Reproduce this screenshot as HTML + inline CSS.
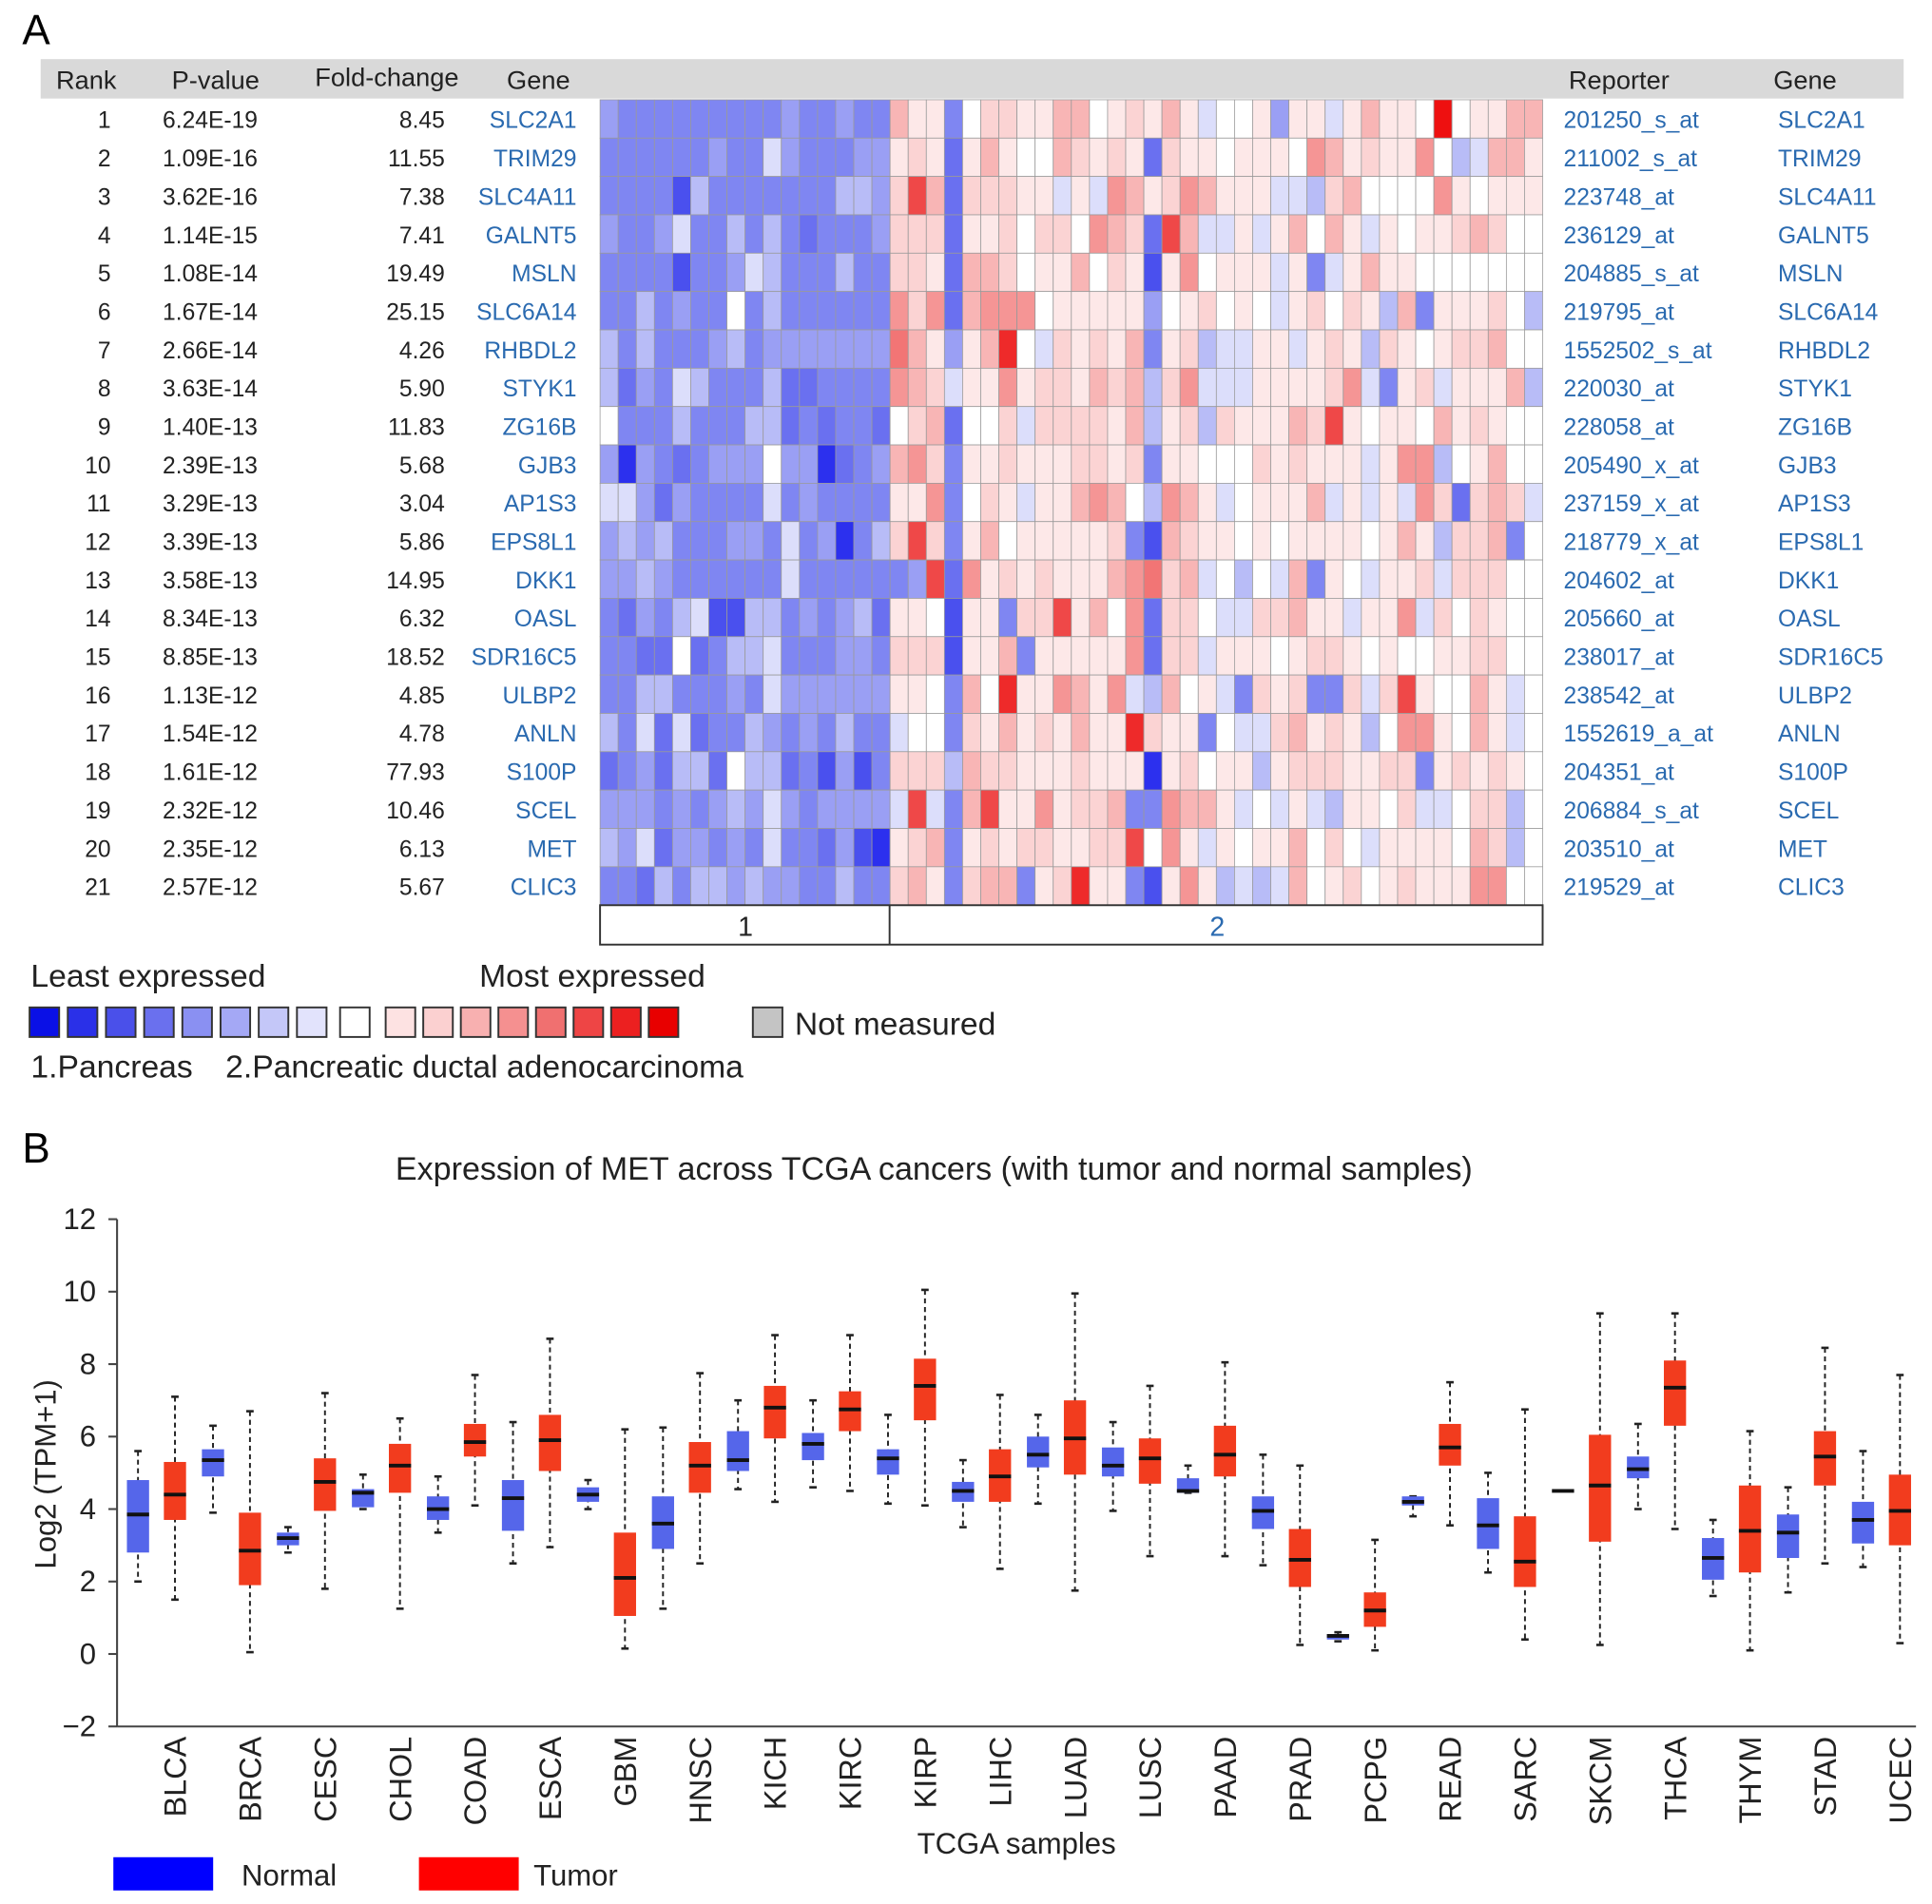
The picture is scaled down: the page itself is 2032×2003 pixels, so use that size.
<!DOCTYPE html>
<html><head><meta charset="utf-8"><style>
html,body{margin:0;padding:0;background:#fff;}
svg{display:block;font-family:"Liberation Sans",Arial,sans-serif;}
</style></head><body>
<svg id="fig" width="2032" height="2003" viewBox="0 0 1568 1546" preserveAspectRatio="none" xmlns="http://www.w3.org/2000/svg">
<rect width="1568" height="1546" fill="#fff"/>
<text x="18" y="36" font-size="34">A</text>
<rect x="33" y="48" width="1512" height="32" fill="#d9d9d9"/>
<g font-size="21" fill="#222">
<text x="70" y="72" text-anchor="middle">Rank</text>
<text x="175" y="72" text-anchor="middle">P-value</text>
<text x="314" y="70" text-anchor="middle">Fold-change</text>
<text x="437" y="72" text-anchor="middle">Gene</text>
<text x="1314" y="72" text-anchor="middle">Reporter</text>
<text x="1465" y="72" text-anchor="middle">Gene</text>
</g>
<g id="table" font-size="19"></g>
<g id="heat"></g>
<g>
<rect x="487" y="735" width="765" height="32" fill="#fff" stroke="#333" stroke-width="1.5"/>
<line x1="722" y1="735" x2="722" y2="767" stroke="#333" stroke-width="1.5"/>
<text x="605" y="760" font-size="22" text-anchor="middle" fill="#222">1</text>
<text x="988" y="760" font-size="22" text-anchor="middle" fill="#2a6ab0">2</text>
</g>
<g font-size="26" fill="#222">
<text x="25" y="801">Least expressed</text>
<text x="389" y="801">Most expressed</text>
<g id="legsq"></g>
<rect x="611" y="818" width="24" height="24" fill="#c4c4c4" stroke="#333" stroke-width="1.5"/>
<text x="645" y="840">Not measured</text>
<text x="25" y="875">1.Pancreas</text>
<text x="183" y="875">2.Pancreatic ductal adenocarcinoma</text>
</g>
<text x="18" y="944" font-size="34">B</text>
<text x="758" y="958" font-size="26.3" text-anchor="middle" fill="#222">Expression of MET across TCGA cancers (with tumor and normal samples)</text>
<g id="chart"></g>
<text transform="translate(45,1197) rotate(-90)" font-size="24" text-anchor="middle" fill="#222">Log2 (TPM+1)</text>
<text x="825" y="1505" font-size="24" text-anchor="middle" fill="#222">TCGA samples</text>
<g font-size="24" fill="#222">
<rect x="92" y="1508" width="81" height="27" fill="#0000ff"/>
<text x="196" y="1531">Normal</text>
<rect x="340" y="1508" width="81" height="27" fill="#ff0000"/>
<text x="433" y="1531">Tumor</text>
</g>
</svg>
<script>
// ---------- table data ----------
const ranks = [1,2,3,4,5,6,7,8,9,10,11,12,13,14,15,16,17,18,19,20,21];
const pvalues = ["6.24E-19","1.09E-16","3.62E-16","1.14E-15","1.08E-14","1.67E-14","2.66E-14","3.63E-14","1.40E-13","2.39E-13","3.29E-13","3.39E-13","3.58E-13","8.34E-13","8.85E-13","1.13E-12","1.54E-12","1.61E-12","2.32E-12","2.35E-12","2.57E-12"];
const foldChanges = ["8.45","11.55","7.38","7.41","19.49","25.15","4.26","5.90","11.83","5.68","3.04","5.86","14.95","6.32","18.52","4.85","4.78","77.93","10.46","6.13","5.67"];
const genes = ["SLC2A1","TRIM29","SLC4A11","GALNT5","MSLN","SLC6A14","RHBDL2","STYK1","ZG16B","GJB3","AP1S3","EPS8L1","DKK1","OASL","SDR16C5","ULBP2","ANLN","S100P","SCEL","MET","CLIC3"];
const reporters = ["201250_s_at","211002_s_at","223748_at","236129_at","204885_s_at","219795_at","1552502_s_at","220030_at","228058_at","205490_x_at","237159_x_at","218779_x_at","204602_at","205660_at","238017_at","238542_at","1552619_a_at","204351_at","206884_s_at","203510_at","219529_at"];
// heatmap levels: 0 darkest blue .. 8 white .. g darkest red ; 16 normal + 36 tumour columns
const heatRows = [
"5444444444544544b9948aa99bb89a9b978895997 9b998g899bb8",
"4444445447544455 9a939b988ba9a93a998 9998cb9a99c867bb9",
"4444264444444665 aeb3aaa99797cb9acb99 9776ab8888c989996",
"5445744646434445 aaa399a8aa8cba3eb77 979b8b979899aba8",
"4444244576444644 aa93bba899b8a929c89 99794 79b99",
"4464544846444444 cac3bccc899999589a 89879a8a96b4999a86",
"6464445645555555 db959bf87a9a9b49a67 799 79a96a989aab8",
"6354764446334444 cba799c9aa9bab6ac77 79999ac749a7999b6",
"8444644466343443 8ab388a7aaaa9b69a6a 999bae98998b9a98",
"5154345558551345 bca499a999aa9a49988 8a9a99979cc689b8",
"7753544447454444 99c48a9799bcb86cb97 8999b79797ca3aba7",
"5656444554745146 aea49b899999a42ba99 8989 99989b96aab4",
"5565444444744444 45e3c9a9a999bcdab78 687b498799a7aaa8",
"4354672266454563 99829 94aae9b8c3aa8 77aab99799c7a8a9",
"4433834667444554 aaa299b499999c3aa79 9989aa9898899aa8",
"4466444547555555 9984b8f99cb9c76b897 4a9a44a7ae988b97",
"6473734465454644 7884a9b9a9b99fa9948 77ab9a968cc98b97",
"3453663866342524 aaa6baa999a99919a89 969aaa99aa49a9a9",
"5554545657545555 7e74be99c9aab44cbb9 787976998a778aa6",
"6573554547443521 9ab49a9aa99aae8c979 899b8a8799998ba6",
"4436466565544644 ab94abb49af99429c96 767b89a89a999cc8"
];
const levelColors = ["#1212ee","#2c30ee","#4a50ee","#6a70f0","#7f86f2","#9a9ff4","#b8bcf7","#dcdefb","#ffffff","#fde8e8","#fbd3d3","#f8b5b5","#f59595","#f27575","#ef4848","#ee2a2a","#ee1010"];
const legendColors = ["#0a10e6","#2a30e8","#4a50ea","#6a70ee","#8a90f2","#a4a8f5","#c4c7f8","#e2e3fc","#ffffff","#fde2e2","#fbd0d0","#f8b0b0","#f59090","#f07070","#ee4545","#ec2020","#e80000"];

// ---------- boxplot data ----------
const categories = ["BLCA","BRCA","CESC","CHOL","COAD","ESCA","GBM","HNSC","KICH","KIRC","KIRP","LIHC","LUAD","LUSC","PAAD","PRAD","PCPG","READ","SARC","SKCM","THCA","THYM","STAD","UCEC"];
const normalMin = [2.0,3.9,2.8,4.0,3.35,2.5,4.0,1.25,4.55,4.6,4.15,3.5,4.15,3.95,4.45,2.45,0.35,3.8,2.25,4.5,4.0,1.6,1.7,2.4];
const normalQ1  = [2.8,4.9,3.0,4.05,3.7,3.4,4.2,2.9,5.05,5.35,4.95,4.2,5.15,4.9,4.45,3.45,0.4,4.1,2.9,4.5,4.85,2.05,2.65,3.05];
const normalMed = [3.85,5.35,3.2,4.45,4.0,4.3,4.4,3.6,5.35,5.8,5.4,4.5,5.5,5.2,4.5,3.95,0.5,4.2,3.55,4.5,5.1,2.65,3.35,3.7];
const normalQ3  = [4.8,5.65,3.35,4.55,4.35,4.8,4.6,4.35,6.15,6.1,5.65,4.75,6.0,5.7,4.85,4.35,0.55,4.35,4.3,4.5,5.45,3.2,3.85,4.2];
const normalMax = [5.6,6.3,3.5,4.95,4.9,6.4,4.8,6.25,7.0,7.0,6.6,5.35,6.6,6.4,5.2,5.5,0.6,4.35,5.0,4.5,6.35,3.7,4.6,5.6];
const tumorMin = [1.5,0.05,1.8,1.25,4.1,2.95,0.15,2.5,4.2,4.5,4.1,2.35,1.75,2.7,2.7,0.25,0.1,3.55,0.4,0.25,3.45,0.1,2.5,0.3];
const tumorQ1  = [3.7,1.9,3.95,4.45,5.45,5.05,1.05,4.45,5.95,6.15,6.45,4.2,4.95,4.7,4.9,1.85,0.75,5.2,1.85,3.1,6.3,2.25,4.65,3.0];
const tumorMed = [4.4,2.85,4.75,5.2,5.85,5.9,2.1,5.2,6.8,6.75,7.4,4.9,5.95,5.4,5.5,2.6,1.2,5.7,2.55,4.65,7.35,3.4,5.45,3.95];
const tumorQ3  = [5.3,3.9,5.4,5.8,6.35,6.6,3.35,5.85,7.4,7.25,8.15,5.65,7.0,5.95,6.3,3.45,1.7,6.35,3.8,6.05,8.1,4.65,6.15,4.95];
const tumorMax = [7.1,6.7,7.2,6.5,7.7,8.7,6.2,7.75,8.8,8.8,10.05,7.15,9.95,7.4,8.05,5.2,3.15,7.5,6.75,9.4,9.4,6.15,8.45,7.7];
const yTicks = [-2,0,2,4,6,8,10,12];
const yTickLabels = ["\u22122","0","2","4","6","8","10","12"];

const NS = "http://www.w3.org/2000/svg";
function mk(tag, attrs, parent){const e=document.createElementNS(NS,tag);for(const k in attrs)e.setAttribute(k,attrs[k]);parent.appendChild(e);return e;}

// ---------- table ----------
const table = document.getElementById("table");
const rowY = i => 97 + 31.14*i;
ranks.forEach((r,i)=>{
  const y = rowY(i)+7;
  const t1 = mk("text",{x:90,y:y,"text-anchor":"end",fill:"#222"},table); t1.textContent=r;
  
  
  const t2 = mk("text",{x:132,y:y,fill:"#222"},table); t2.textContent=pvalues[i];
  
  
  const t3 = mk("text",{x:361,y:y,"text-anchor":"end",fill:"#222"},table); t3.textContent=foldChanges[i];
  
  
  const t4 = mk("text",{x:468,y:y,"text-anchor":"end",fill:"#2a6ab0"},table); t4.textContent=genes[i];
  
  
  const t5 = mk("text",{x:1269,y:y,fill:"#2a6ab0"},table); t5.textContent=reporters[i];
  
  
  const t6 = mk("text",{x:1443,y:y,fill:"#2a6ab0"},table); t6.textContent=genes[i];
  
  
});

// ---------- heatmap ----------
const heat = document.getElementById("heat");
const heatX0 = 487, heatX1 = 1252, heatY0 = 81, nCols = 52;
const cw = (heatX1-heatX0)/nCols, ch = 31.14;
heatRows.forEach((row,i)=>{
  const s = row.replace(/ /g,"").padEnd(nCols,"8").slice(0,nCols);
  for(let j=0;j<nCols;j++){
    const lv = parseInt(s[j],17);
    const c = mk("rect",{x:heatX0+j*cw,y:heatY0+i*ch,width:cw,height:ch,fill:levelColors[isNaN(lv)?8:lv],stroke:"#9a9a9a","stroke-width":0.6},heat);
    
    
  }
});

// legend squares
const legsq = document.getElementById("legsq");
legendColors.forEach((col,k)=>{
  const x = k<8 ? 24+31*k : (k===8 ? 276 : 313+30.5*(k-9));
  const r = mk("rect",{x:x,y:818,width:24,height:24,fill:col,stroke:"#333","stroke-width":1.5},legsq);
  
  
});

// ---------- boxplot ----------
const chart = document.getElementById("chart");
const yS = v => 1343 - v*29.42;
const xT = i => 142 + i*60.87;
const xN = i => xT(i) - 30;
mk("line",{x1:95,y1:yS(12),x2:95,y2:yS(-2),stroke:"#444","stroke-width":1.6},chart);
mk("line",{x1:95,y1:yS(-2),x2:1555,y2:yS(-2),stroke:"#444","stroke-width":1.6},chart);
yTicks.forEach((v,k)=>{
  mk("line",{x1:88,y1:yS(v),x2:95,y2:yS(v),stroke:"#444","stroke-width":1.6},chart);
  const t = mk("text",{x:78,y:yS(v)+8,"text-anchor":"end","font-size":24,fill:"#222"},chart);
  t.textContent = yTickLabels[k];
  
  
});
function drawBox(x,mn,q1,md,q3,mx,fill,name){
  const g = mk("g",{},chart);
  
  
  const hw = 9;
  mk("line",{x1:x,y1:yS(mx),x2:x,y2:yS(mn),stroke:"#222","stroke-width":1.5,"stroke-dasharray":"4,3"},g);
  mk("line",{x1:x-3,y1:yS(mx),x2:x+3,y2:yS(mx),stroke:"#222","stroke-width":2},g);
  mk("line",{x1:x-3,y1:yS(mn),x2:x+3,y2:yS(mn),stroke:"#222","stroke-width":2},g);
  const h = Math.max(yS(q1)-yS(q3),0);
  if(h>0) mk("rect",{x:x-hw,y:yS(q3),width:2*hw,height:h,fill:fill},g);
  mk("line",{x1:x-hw,y1:yS(md),x2:x+hw,y2:yS(md),stroke:"#111","stroke-width":3},g);
}
categories.forEach((c,i)=>{
  drawBox(xN(i),normalMin[i],normalQ1[i],normalMed[i],normalQ3[i],normalMax[i],"#5566ea","normal-box-"+c.toLowerCase());
  drawBox(xT(i),tumorMin[i],tumorQ1[i],tumorMed[i],tumorQ3[i],tumorMax[i],"#f23c1e","tumor-box-"+c.toLowerCase());
  const t = mk("text",{transform:`translate(${xT(i)+9},1410) rotate(-90)`,"text-anchor":"end","font-size":25,fill:"#222"},chart);
  t.textContent = c;
  
  
});
</script>
</body></html>
